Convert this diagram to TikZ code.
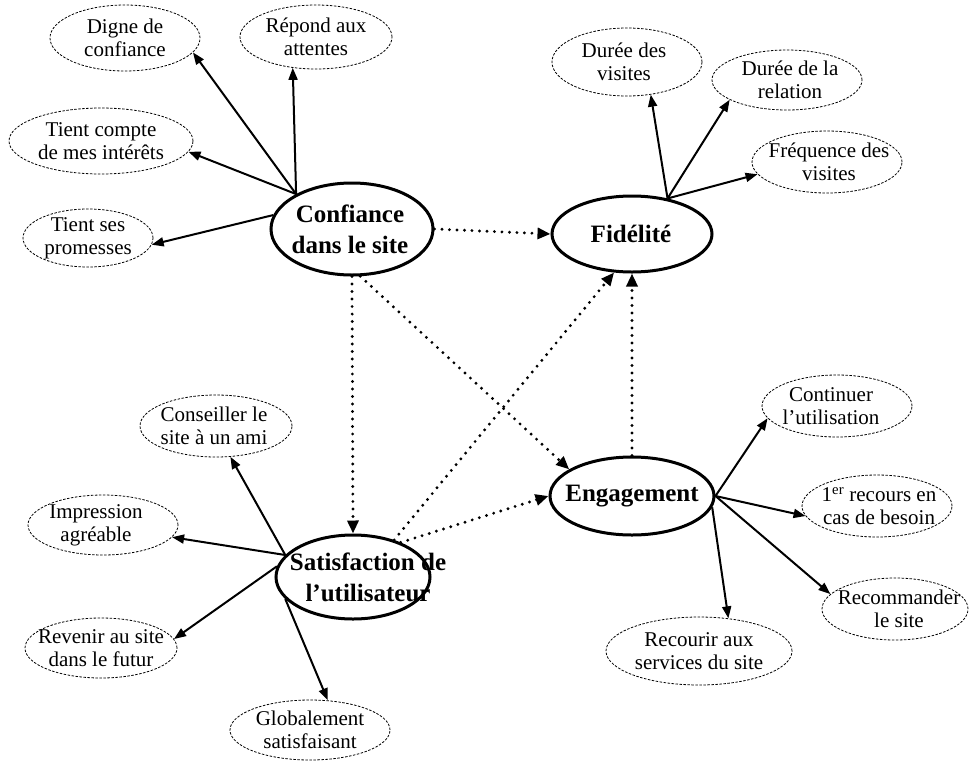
\documentclass[tikz,border=0pt]{standalone}
\usepackage{fontspec}
\setmainfont{Liberation Serif}
\usetikzlibrary{shapes.geometric,arrows.meta}
\begin{document}
\begin{tikzpicture}[x=1pt,y=-1pt,
  mainbox/.style 2 args={draw, ellipse, line width=3pt, minimum width=#1, minimum height=#2, inner sep=0pt},
  subbox/.style 2 args={draw, ellipse, line width=0.8pt, dash pattern=on 2.5pt off 1.5pt, minimum width=#1, minimum height=#2, inner sep=0pt},
  mtext/.style={align=center, inner sep=0pt, font=\fontsize{25}{31}\selectfont\bfseries},
  stext/.style={align=center, inner sep=0pt, font=\fontsize{21}{23}\selectfont},
  link/.style={line width=2pt, -{Triangle[length=12pt,width=9pt]}},
  dotlink/.style={line width=3.2pt, line cap=round, dash pattern=on 0pt off 7.5pt, -{Triangle[length=13pt,width=11pt]}},
]
\fill[white] (0,0) rectangle (969,761);
\useasboundingbox (0,0) rectangle (969,761);

% main constructs
\node[mainbox={162pt}{92pt}] (conf) at (352,229) {};
\node[mtext] (conf-t) at (350,229) {Confiance\\dans le site};
\node[mainbox={160pt}{76pt}] (fid) at (632,234) {};
\node[mtext] (fid-t) at (631,234) {Fidélité};
\node[mainbox={164pt}{78pt}] (eng) at (632,496) {};
\node[mtext] (eng-t) at (632,496) {Engagement};
\node[mainbox={154pt}{84pt}] (sat) at (353,577) {};
\node[mtext] (sat-t) at (368,577) {Satisfaction de\\l'utilisateur};

% items of Confiance
\node[subbox={150pt}{66pt}] (digne) at (125,38) {};
\node[stext] (digne-t) at (125,38) {Digne de\\confiance};
\node[subbox={152pt}{64pt}] (rep) at (316,37) {};
\node[stext] (rep-t) at (316,37) {Répond aux\\attentes};
\node[subbox={184pt}{66pt}] (tc) at (101,141) {};
\node[stext] (tc-t) at (101,141) {Tient compte\\de mes intérêts};
\node[subbox={130pt}{58pt}] (tsp) at (88,238) {};
\node[stext] (tsp-t) at (88,238) {Tient ses\\promesses};

% items of Fidelite
\node[subbox={150pt}{68pt}] (dvis) at (627,62) {};
\node[stext] (dvis-t) at (624,62) {Durée des\\visites};
\node[subbox={150pt}{60pt}] (drel) at (787,80) {};
\node[stext] (drel-t) at (790,80) {Durée de la\\relation};
\node[subbox={150pt}{62pt}] (freq) at (827,162) {};
\node[stext] (freq-t) at (829,162) {Fréquence des\\visites};

% items of Satisfaction
\node[subbox={152pt}{62pt}] (cons) at (216,426) {};
\node[stext] (cons-t) at (214,426) {Conseiller le\\site à un ami};
\node[subbox={150pt}{60pt}] (imp) at (103,525) {};
\node[stext] (imp-t) at (96,525) {Impression\\agréable};
\node[subbox={152pt}{60pt}] (rev) at (101,648) {};
\node[stext] (rev-t) at (101,648) {Revenir au site\\dans le futur};
\node[subbox={160pt}{60pt}] (glob) at (310,730) {};
\node[stext] (glob-t) at (310,730) {Globalement\\satisfaisant};

% items of Engagement
\node[subbox={150pt}{62pt}] (cont) at (837,406) {};
\node[stext] (cont-t) at (831,406) {Continuer\\l'utilisation};
\node[subbox={150pt}{62pt}] (rec1) at (877,506) {};
\node[stext] (rec1-t) at (879,506) {1\textsuperscript{er} recours en\\cas de besoin};
\node[subbox={146pt}{62pt}] (recom) at (895,609) {};
\node[stext] (recom-t) at (899,609) {Recommander\\le site};
\node[subbox={186pt}{68pt}] (recour) at (699,651) {};
\node[stext] (recour-t) at (699,651) {Recourir aux\\services du site};

% solid arrows
\draw[link] (conf.148) -- (digne.-12);
\draw[link] (conf.148) -- (rep.-127);
\draw[link] (conf.148) -- (tc.-7);
\draw[link] (conf.170) -- (tsp.-6);

\draw[link] (fid.45) -- (dvis.-54);
\draw[link] (fid.45) -- (drel.-161);
\draw[link] (fid.45) -- (freq.-170);

\draw[link] (sat.162) -- (cons.-65);
\draw[link] (sat.162) -- (imp.-10);
\draw[link] (sat.172) -- (rev.7);
\draw[link] (sat.-162) -- (glob.59);

\draw[link] (eng.east) -- (cont.-170);
\draw[link] (eng.east) -- (rec1.-172);
\draw[link] (eng.east) -- (recom.167);
\draw[link] (eng.-8) -- (recour.48);

% dotted relations
\draw[dotlink] (conf.east) -- (fid.west);
\draw[dotlink] (conf.south) -- (sat.north);
\draw[dotlink] (conf.-80) -- (eng.157);
\draw[dotlink] (sat.42) -- (fid.-115);
\draw[dotlink] (sat.36) -- (eng.west);
\draw[dotlink] (eng.north) -- (fid.south);
\end{tikzpicture}
\end{document}
